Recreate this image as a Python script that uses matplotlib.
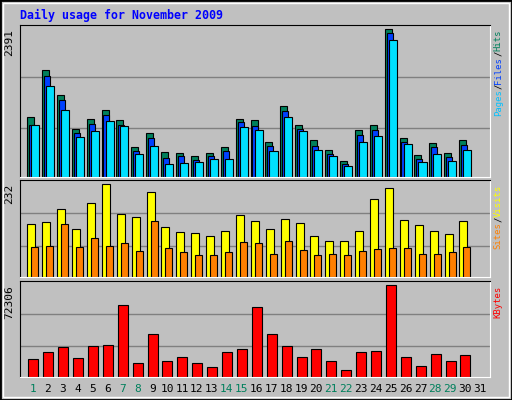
import numpy as np
import matplotlib.pyplot as plt
from matplotlib.patches import Rectangle

days = list(range(1, 32))
weekend_days = [1, 7, 8, 14, 15, 21, 22, 28, 29]

hits = [977, 1722, 1317, 783, 944, 1090, 928, 491, 718, 410, 394, 345, 394, 491, 944,
        928, 572, 1139, 847, 604, 443, 264, 766, 847, 2391, 637, 362, 556, 394, 604]
files = [847, 1624, 1252, 718, 864, 1009, 847, 426, 637, 313, 345, 281, 345, 426, 896,
         831, 507, 1074, 783, 507, 378, 216, 685, 766, 2321, 572, 297, 491, 329, 524]
pages = [847, 1463, 1090, 653, 750, 912, 831, 378, 507, 216, 232, 248, 297, 297, 815,
         766, 426, 977, 750, 443, 345, 184, 572, 669, 2207, 540, 248, 378, 264, 443]
visits = [131, 136, 169, 121, 184, 232, 156, 149, 212, 124, 113, 111, 103, 116, 154,
          139, 119, 144, 134, 103, 91, 91, 116, 194, 222, 141, 129, 116, 108, 139]
sites = [76, 78, 131, 76, 98, 78, 86, 66, 139, 73, 63, 55, 55, 63, 88,
         86, 58, 91, 68, 55, 58, 55, 66, 71, 73, 73, 58, 58, 63, 76]
kbytes = [14303, 19866, 23838, 15098, 24634, 25428, 56418, 11125, 34168, 12713, 15892,
          11125, 7946, 19866, 22249, 54829, 34168, 24634, 15892, 22249, 12713, 5562,
          19866, 20660, 72306, 15892, 8741, 18276, 12713, 17481]

BG = '#C0C0C0'
MONO = 'DejaVu Sans Mono'
LABEL_FS = 6.4

fig = plt.figure(figsize=(5.12, 4.0), dpi=100, facecolor=BG)
# outer 3d border
fig.patches.append(Rectangle((0, 0), 1, 1, transform=fig.transFigure, fill=False,
                             edgecolor='black', lw=2))
fig.patches.append(Rectangle((0.006, 0.008), 0.988, 0.985, transform=fig.transFigure,
                             fill=False, edgecolor='white', lw=1))

left, width = 20 / 512, 470 / 512
ax1 = fig.add_axes([left, 1 - 177 / 400, width, 152 / 400])
ax2 = fig.add_axes([left, 1 - 277 / 400, width, 97 / 400])
ax3 = fig.add_axes([left, 1 - 377 / 400, width, 96 / 400])

x = np.array(days[:len(hits)])

def style(ax, ymax, top_value, label_parts):
    ax.set_facecolor(BG)
    ax.set_xlim(0.13, 31.67)
    ax.set_ylim(0, ymax)
    ax.set_xticks([])
    ax.set_yticks([])
    for y in (0.32 * ymax, 0.66 * ymax):
        ax.axhline(y, color='#808080', lw=1, zorder=0)
    for s in ('left', 'top'):
        ax.spines[s].set_color('black')
    for s in ('right', 'bottom'):
        ax.spines[s].set_color('white')
    ax.text(-0.012, top_value / ymax, str(top_value), transform=ax.transAxes,
            rotation=90, ha='right', va='top', family=MONO, fontsize=8)
    # right side multi-coloured label, bottom to top
    ax_h = ax.get_position().height * 400
    char_h = (0.602 * LABEL_FS * 100 / 72 + 0.1) / ax_h
    n = sum(len(t) for t, _ in label_parts)
    pos = 1 - 4 / ax_h - char_h * n
    for txt, col in label_parts:
        ax.text(1.008, pos, txt, transform=ax.transAxes, rotation=90,
                ha='left', va='bottom', family=MONO, fontsize=LABEL_FS, color=col)
        pos += char_h * len(txt)

bar_kw = dict(edgecolor='black', linewidth=0.8, align='edge')
ax1.bar(x - 0.40, hits, width=0.47, color='#00805C', **bar_kw)
ax1.bar(x - 0.27, files, width=0.40, color='#0040FF', **bar_kw)
ax1.bar(x - 0.13, pages, width=0.54, color='#00E0FF', **bar_kw)
style(ax1, 2391 * 152 / 148, 2391,
      [('Pages', '#00C0FF'), ('/', 'black'), ('Files', '#0040FF'),
       ('/', 'black'), ('Hits', '#00805C')])

ax2.bar(x - 0.38, visits, width=0.54, color='#FFFF00', **bar_kw)
ax2.bar(x - 0.11, sites, width=0.47, color='#FF8000', **bar_kw)
style(ax2, 242, 232, [('Sites', '#FF8000'), ('/', 'black'), ('Visits', '#FFFF00')])

ax3.bar(x - 0.31, kbytes, width=0.67, color='#FF0000', **bar_kw)
style(ax3, 75480, 72306, [('KBytes', '#FF0000')])

for d in days:
    ax3.text(d, -0.13, str(d), transform=ax3.get_xaxis_transform(), ha='center',
             va='center', family=MONO, fontsize=8,
             color='#00805C' if d in weekend_days else 'black')

fig.text(20 / 512, 1 - 15 / 400, 'Daily usage for November 2009', color='#0000FF',
         family=MONO, fontsize=8.4, fontweight='bold', ha='left', va='center')

fig.savefig('out.png', dpi=100, facecolor=BG)
